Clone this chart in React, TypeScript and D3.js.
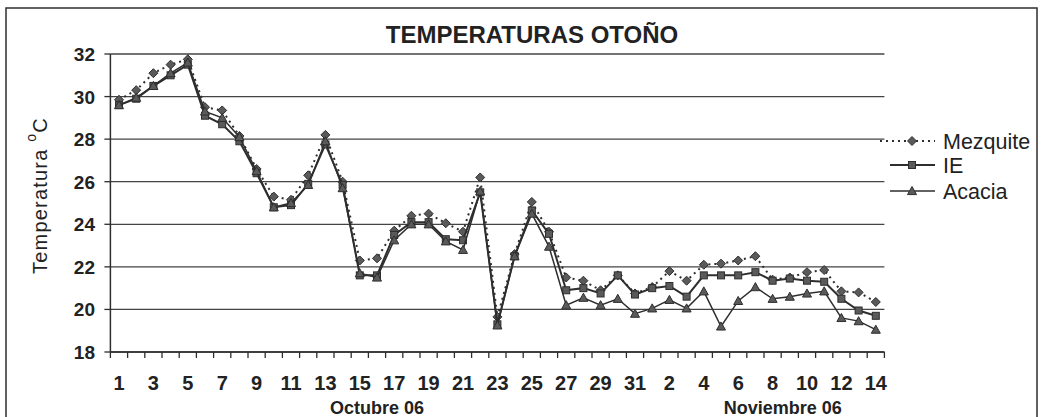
import React from "react";
import * as d3 from "d3";

const octDays = d3.range(1, 32).map((d) => `O${d}`);
const novDays = d3.range(1, 15).map((d) => `N${d}`);
const categories = [...octDays, ...novDays];
const tickLabels = [...d3.range(1, 32).map(String), ...d3.range(1, 15).map(String)];

const mezquite = [
  29.85, 30.3, 31.1, 31.5, 31.75, 29.5, 29.35, 28.15, 26.6, 25.3, 25.15, 26.3, 28.2, 26.0, 22.3, 22.4,
  23.7, 24.4, 24.5, 24.05, 23.65, 26.2, 19.65, 22.6, 25.05, 23.65, 21.5, 21.35, 20.9, 21.6, 20.75,
  21.05, 21.8, 21.35, 22.1, 22.15, 22.3, 22.5, 21.4, 21.5, 21.75, 21.85, 20.85, 20.8, 20.35,
];
const ie = [
  29.6, 29.9, 30.5, 31.0, 31.5, 29.1, 28.7, 27.9, 26.4, 24.8, 24.9, 25.9, 27.75, 25.85, 21.6, 21.6,
  23.5, 24.1, 24.1, 23.3, 23.25, 25.5, 19.3, 22.5, 24.65, 23.55, 20.9, 21.0, 20.75, 21.6, 20.7,
  21.0, 21.1, 20.6, 21.6, 21.6, 21.6, 21.75, 21.35, 21.45, 21.35, 21.3, 20.5, 19.95, 19.7,
];
const acacia = [
  29.6, 29.95, 30.5, 31.1, 31.6, 29.3, 29.0, 28.1, 26.5, 24.8, 25.0, 25.85, 27.9, 25.7, 21.7, 21.5,
  23.25, 24.0, 24.0, 23.2, 22.8, 25.55, 19.25, 22.5, 24.5, 22.95, 20.2, 20.55, 20.2, 20.5, 19.8,
  20.05, 20.45, 20.05, 20.85, 19.2, 20.4, 21.05, 20.5, 20.6, 20.75, 20.85, 19.6, 19.45, 19.05,
];
const yTicks = [18, 20, 22, 24, 26, 28, 30, 32];
const seriesNames = ["Mezquite", "IE", "Acacia"];

const W = 1043;
const H = 417;
const ink = "#2e2e2e";
const markFill = "#5a5a5a";
const narrow = "'Liberation Sans Narrow', 'Liberation Sans', Arial, sans-serif";

function Marker({ type, x, y }: { type: string; x: number; y: number }) {
  if (type === "diamond") {
    const s = 4.5;
    return (
      <path
        d={`M${x},${y - s}L${x + s},${y}L${x},${y + s}L${x - s},${y}Z`}
        fill={markFill}
        stroke={ink}
        strokeWidth={1}
      />
    );
  }
  if (type === "square") {
    const s = 3.5;
    return <rect x={x - s} y={y - s} width={2 * s} height={2 * s} fill={markFill} stroke={ink} strokeWidth={1} />;
  }
  const s = 4.5;
  return (
    <path
      d={`M${x},${y - s}L${x + s},${y + s * 0.8}L${x - s},${y + s * 0.8}Z`}
      fill={markFill}
      stroke={ink}
      strokeWidth={1}
    />
  );
}

export default function App() {
  const x = d3.scaleBand<string>().domain(categories).range([110.4, 884.4]).padding(0);
  const y = d3.scaleLinear().domain([18, 32]).range([352, 54]);
  const cx = (c: string) => (x(c) as number) + x.bandwidth() / 2;

  const line = d3
    .line<number>()
    .x((_, i) => cx(categories[i]))
    .y((d) => y(d));

  const series = [
    { name: seriesNames[0], values: mezquite, marker: "diamond", dash: "2,4", width: 2 },
    { name: seriesNames[1], values: ie, marker: "square", dash: undefined, width: 2 },
    { name: seriesNames[2], values: acacia, marker: "triangle", dash: undefined, width: 1.5 },
  ];

  const [x0, x1] = x.range();
  const boundaries = d3.range(categories.length + 1).map((i) => x0 + i * x.bandwidth());

  return (
    <svg
      width={W}
      height={H}
      style={{ position: "absolute", left: 0, top: 0, background: "#fff" }}
      fontFamily="'Liberation Sans', Arial, sans-serif"
    >
      <rect x={0} y={0} width={W} height={H} fill="#fff" />
      {/* outer frame */}
      <rect x={6} y={8} width={1031} height={430} fill="none" stroke={ink} strokeWidth={1.5} />

      {/* title */}
      <text x={532} y={43} textAnchor="middle" fontSize={24} fontWeight="bold" fill="#222">
        TEMPERATURAS OTOÑO
      </text>

      {/* gridlines */}
      {yTicks.map((t) => (
        <line key={t} x1={x0} x2={x1} y1={y(t)} y2={y(t)} stroke="#444" strokeWidth={1.3} />
      ))}
      {/* axes */}
      <line x1={x0} x2={x0} y1={y(32)} y2={y(18)} stroke={ink} strokeWidth={1.5} />
      <line x1={x0} x2={x1} y1={y(18)} y2={y(18)} stroke={ink} strokeWidth={1.5} />
      {yTicks.map((t) => (
        <g key={`yt${t}`}>
          <line x1={x0 - 6} x2={x0} y1={y(t)} y2={y(t)} stroke={ink} strokeWidth={1.3} />
          <text x={95} y={y(t) + 7} textAnchor="end" fontSize={19} fontWeight="bold" fill="#222">
            {t}
          </text>
        </g>
      ))}
      {boundaries.map((bx, i) => (
        <line key={`xt${i}`} x1={bx} x2={bx} y1={y(18)} y2={y(18) + 6} stroke={ink} strokeWidth={1.3} />
      ))}
      {categories.map((c, i) =>
        i % 2 === 0 ? (
          <text
            key={`xl${c}`}
            x={cx(c)}
            y={390}
            textAnchor="middle"
            fontSize={20}
            fontWeight="bold"
            fontFamily={narrow}
            fill="#222"
          >
            {tickLabels[i]}
          </text>
        ) : null
      )}
      <text x={cx("O16")} y={414} textAnchor="middle" fontSize={18} fontWeight="bold" fontFamily={narrow} fill="#222">
        Octubre 06
      </text>
      <text
        x={(cx("N8") + cx("N10")) / 2 - 7}
        y={414}
        textAnchor="middle"
        fontSize={18}
        fontWeight="bold"
        fontFamily={narrow}
        fill="#222"
      >
        Noviembre 06
      </text>

      {/* y title */}
      <text transform={`translate(47,274) rotate(-90)`} fontSize={20} fill="#222" letterSpacing={1.2}>
        <tspan>Temperatura </tspan>
        <tspan fontSize={14} dy={-11}>o</tspan>
        <tspan dy={11}>C</tspan>
      </text>

      {/* series */}
      {series.map((s) => (
        <g key={s.name}>
          <path
            d={line(s.values) || ""}
            fill="none"
            stroke={ink}
            strokeWidth={s.width}
            strokeDasharray={s.dash}
          />
          {s.values.map((v, i) => (
            <Marker key={i} type={s.marker} x={cx(categories[i])} y={y(v)} />
          ))}
        </g>
      ))}

      {/* legend */}
      {series.map((s, i) => {
        const ly = [141, 165, 191][i];
        const lx0 = i === 0 ? 880 : 890;
        return (
          <g key={`lg${s.name}`}>
            <line x1={lx0} x2={935} y1={ly} y2={ly} stroke={ink} strokeWidth={s.width} strokeDasharray={s.dash} />
            <Marker type={s.marker} x={912} y={ly} />
            <text x={943} y={ly + 7.5} fontSize={21.5} fill="#222">
              {s.name}
            </text>
          </g>
        );
      })}
    </svg>
  );
}
